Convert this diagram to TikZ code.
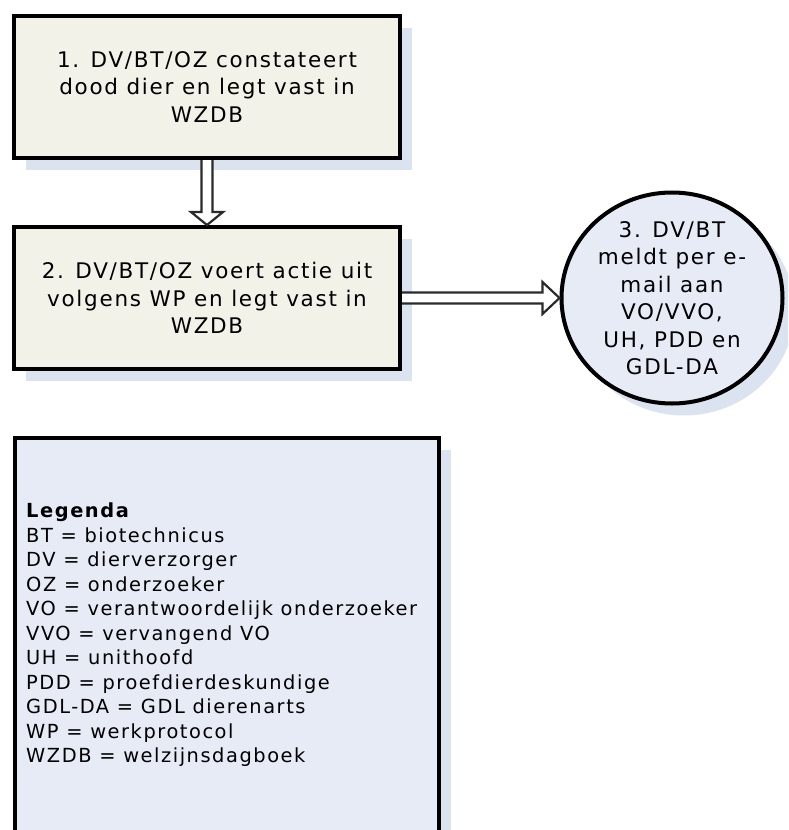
\documentclass[tikz,border=0pt]{standalone}
\usepackage{fontspec}
\setmainfont{DejaVu Sans}[LetterSpace=8]
\usepackage{tikz}
\usetikzlibrary{calc,shapes.geometric,shadows}

\definecolor{boxbeige}{HTML}{F2F2E8}
\definecolor{legblue}{HTML}{E6EBF5}
\definecolor{shadowblue}{HTML}{DCE3F0}
\definecolor{arrowgray}{HTML}{2A2A2A}

\begin{document}
\begin{tikzpicture}[x=1pt,y=-1pt]
    \useasboundingbox (0,0) rectangle (788,830);
    \clip (0,0) rectangle (788,830);
    
    \tikzset{boxshadow/.style={drop shadow={shadow xshift=12pt,shadow yshift=-12pt,fill=shadowblue,opacity=1}}}
    \tikzset{actrect/.style={rectangle,fill=boxbeige,draw=black,line width=4pt,boxshadow,minimum width=386pt,minimum height=142pt,align=center,font=\fontsize{21.5}{27.5}\selectfont}}
    \tikzset{mailcirc/.style={ellipse,fill=legblue,draw=black,line width=4pt,boxshadow,minimum width=221pt,minimum height=211pt}}
    \tikzset{legrect/.style={rectangle,fill=legblue,draw=black,line width=4pt,boxshadow,minimum width=424pt,minimum height=422pt}}
    \tikzset{hollowarr/.style={draw=arrowgray,fill=white,line width=2.2pt,line join=miter}}
    
    \node[actrect] (dood) at (207,87) {1. DV/BT/OZ constateert\\dood dier en legt vast in\\WZDB};
    \node[actrect] (actie) at (207,298) {2. DV/BT/OZ voert actie uit\\volgens WP en legt vast in\\WZDB};
    
    \node[mailcirc] (mail) at (672,298) {};
    \node[align=center,inner sep=0,font=\fontsize{21.5}{27.5}\selectfont] (mailtxt) at (mail.center) {3. DV/BT\\meldt per e-\\mail aan\\VO/VVO,\\UH, PDD en\\GDL-DA};
    
    \node[legrect] (legenda) at (227,649) {};
    \node[anchor=north west,align=left,inner sep=0,font=\fontsize{19.4}{24.5}\selectfont] (legtxt) at ($(legenda.north west)+(13,67)$) {\textbf{Legenda}\\
        BT = biotechnicus\\
        DV = dierverzorger\\
        OZ = onderzoeker\\
        VO = verantwoordelijk onderzoeker\\
        VVO = vervangend VO\\
        UH = unithoofd\\
        PDD = proefdierdeskundige\\
        GDL-DA = GDL dierenarts\\
        WP = werkprotocol\\
        WZDB = welzijnsdagboek};
    
    \draw[hollowarr] ($(dood.south)+(-5.5,0)$) -- ($(actie.north)+(-5.5,-13)$) -- ($(actie.north)+(-16,-13)$) -- (actie.north) -- ($(actie.north)+(16,-13)$) -- ($(actie.north)+(5.5,-13)$) -- ($(dood.south)+(5.5,0)$);
    \draw[hollowarr] ($(actie.east)+(0,-5.5)$) -- ($(mail.west)+(-17,-5.5)$) -- ($(mail.west)+(-17,-16)$) -- (mail.west) -- ($(mail.west)+(-17,16)$) -- ($(mail.west)+(-17,5.5)$) -- ($(actie.east)+(0,5.5)$);
\end{tikzpicture}
\end{document}
